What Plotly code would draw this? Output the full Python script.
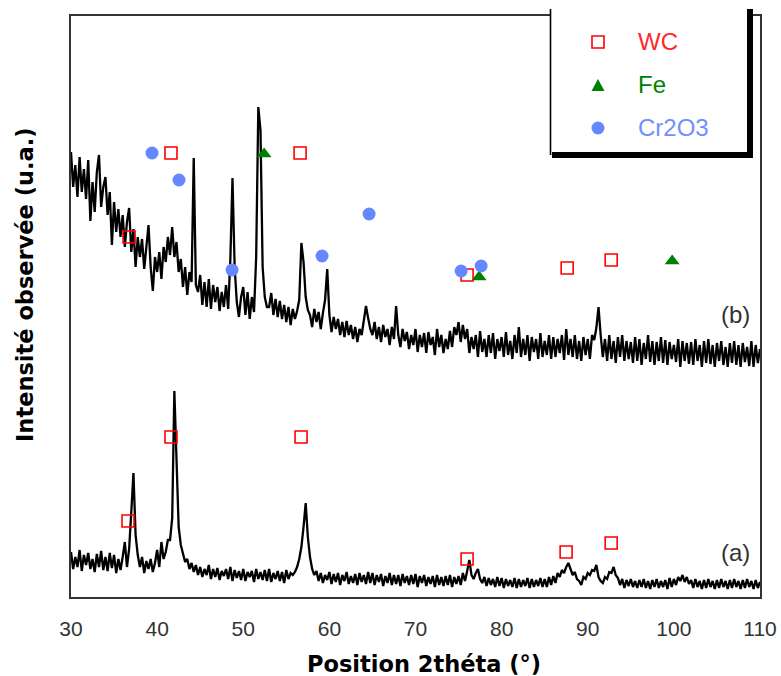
import numpy as np
import plotly.graph_objects as go

# ---------------- data ----------------
two_theta_start = 30.0
two_theta_step = 0.25

# Pattern (b) - intensity (u.a.), 0.25 deg steps from 30 to 110
pattern_b = [
    445, 410, 432, 400,  440, 405, 428, 398,  437, 376, 415, 385,  425, 442, 390, 410,
    420, 382, 405, 352,  395, 365, 388, 360,  382, 350, 375, 389,  345, 368, 330, 360,
    340, 358, 328, 352,  372, 330, 306, 340,  325, 345, 318, 350,  335, 360, 342, 370,
    340, 355, 325, 338,  310, 330, 302, 325,  315, 439, 312, 305,  322, 292, 315, 290,
    318, 288, 312, 295,  310, 286, 305, 290,  312, 288, 337, 419,  330, 295, 280, 300,
    310, 282, 305, 278,  300, 285, 340, 490,  467, 330, 300, 290,  290, 304, 282, 298,
    280, 296, 278, 292,  275, 290, 272, 288,  278, 286, 297, 354,  335, 300, 287, 282,
    270, 288, 275, 285,  268, 284, 297, 328,  282, 265, 280, 268,  278, 262, 275, 260,
    276, 262, 272, 258,  270, 255, 268, 262,  276, 291, 279, 268,  262, 275, 258, 270,
    255, 272, 260, 268,  252, 270, 258, 291,  262, 250, 268, 256,  265, 248, 262, 252,
    268, 245, 262, 250,  264, 244, 265, 252,  260, 242, 268, 250,  262, 244, 258, 248,
    266, 250, 270, 262,  275, 255, 272, 258,  268, 244, 260, 248,  262, 240, 266, 245,
    258, 240, 262, 244,  264, 238, 258, 246,  260, 240, 265, 242,  256, 238, 262, 244,
    270, 240, 258, 242,  262, 236, 260, 245,  258, 238, 264, 240,  256, 242, 262, 238,
    260, 240, 258, 244,  262, 237, 268, 242,  258, 240, 262, 238,  256, 236, 260, 242,
    258, 238, 262, 257,  269, 290, 262, 240,  258, 236, 262, 238,  256, 234, 260, 240,
    262, 236, 256, 238,  255, 234, 260, 236,  258, 232, 254, 238,  262, 235, 256, 232,
    255, 236, 260, 234,  257, 232, 255, 238,  252, 235, 258, 230,  256, 236, 254, 233,
    255, 232, 258, 236,  252, 230, 256, 234,  258, 233, 252, 230,  254, 236, 256, 232,
    250, 230, 254, 234,  256, 232, 252, 230,  254, 235, 250, 231,  256, 230, 252, 234,
    248,
]

# Pattern (a) - intensity (u.a.), 0.25 deg steps from 30 to 110
pattern_a = [
    45, 28, 40, 30,  47, 26, 42, 32,  44, 28, 38, 25,  43, 30, 46, 27,
    40, 26, 44, 29,  42, 24, 38, 27,  40, 55, 30, 48,  85, 124, 62, 42,
    30, 40, 24, 36,  28, 38, 25, 34,  47, 30, 55, 38,  45, 57, 57, 79,
    206, 130, 70, 52,  42, 35, 38, 28,  34, 25, 32, 22,  30, 20, 28, 22,
    32, 18, 28, 20,  29, 17, 26, 21,  28, 18, 30, 16,  27, 19, 26, 17,
    28, 16, 25, 20,  26, 15, 28, 18,  25, 17, 27, 16,  28, 15, 24, 18,
    26, 16, 25, 14,  27, 18, 24, 22,  25, 30, 38, 50,  70, 94, 60, 40,
    28, 22, 26, 16,  24, 14, 22, 17,  25, 13, 23, 15,  24, 12, 22, 16,
    25, 13, 21, 14,  23, 12, 24, 15,  22, 13, 25, 14,  24, 12, 22, 15,
    23, 11, 21, 14,  24, 12, 22, 13,  22, 11, 23, 14,  21, 12, 22, 13,
    23, 10, 21, 14,  22, 11, 20, 13,  21, 10, 22, 12,  20, 11, 21, 12,
    22, 10, 20, 13,  21, 12, 24, 16,  26, 37, 22, 18,  24, 28, 18, 14,
    20, 11, 19, 12,  18, 10, 20, 11,  19, 9, 18, 11,  17, 10, 19, 9,
    18, 10, 17, 11,  19, 9, 18, 10,  17, 11, 19, 10,  18, 10, 20, 12,
    21, 14, 24, 20,  27, 24, 30, 34,  28, 22, 25, 18,  16, 12, 20, 18,
    24, 22, 27, 26,  32, 20, 16, 14,  20, 18, 25, 24,  30, 22, 19, 12,
    18, 9, 17, 11,  18, 10, 16, 9,  17, 10, 18, 9,  16, 8, 17, 10,
    18, 9, 16, 10,  17, 8, 19, 10,  18, 12, 20, 16,  22, 15, 20, 13,
    17, 9, 18, 10,  16, 8, 17, 9,  18, 10, 16, 8,  17, 9, 18, 10,
    16, 8, 17, 9,  18, 10, 16, 8,  17, 9, 18, 10,  16, 8, 17, 9,
    15,
]

two_theta = two_theta_start + two_theta_step * np.arange(len(pattern_b))

# Phase markers (2theta, intensity level)
wc_x = [36.74, 41.61, 56.60, 75.99, 87.61, 92.72,
        36.62, 41.61, 56.71, 75.99, 87.49, 92.72]
wc_y = [360, 444, 444, 322, 329, 337,
        76, 160, 160, 38, 45, 54]
fe_x = [52.42, 77.39, 99.80]
fe_y = [443, 320, 336]
cr2o3_x = [39.41, 42.54, 48.70, 59.15, 64.61, 75.30, 77.62]
cr2o3_y = [444, 417, 327, 341, 383, 326, 331]

x_ticks = [30, 40, 50, 60, 70, 80, 90, 100, 110]
legend_names = ["WC", "Fe", "Cr2O3"]
pattern_labels = ["(b)", "(a)"]

# ---------------- styles ----------------
RED = "#ff0000"
GREEN = "#008000"
BLUE = "#6688ff"
FRAME = "#333333"

W, H = 781, 676
L, R, T, B = 71, 21, 16, 79
PW, PH = W - L - R, H - T - B


def px(xp):
    return (xp - L) / PW


def py(yp):
    return (H - B - yp) / PH


fig = go.Figure()
fig.add_trace(go.Scatter(x=two_theta, y=pattern_b, mode="lines",
                         line=dict(color="black", width=2.3), showlegend=False,
                         hoverinfo="skip"))
fig.add_trace(go.Scatter(x=two_theta, y=pattern_a, mode="lines",
                         line=dict(color="black", width=2.3), showlegend=False,
                         hoverinfo="skip"))
fig.add_trace(go.Scatter(x=wc_x, y=wc_y, mode="markers", name="WC",
                         marker=dict(symbol="square-open", size=12,
                                     color=RED, line=dict(color=RED, width=1.6)),
                         showlegend=False, cliponaxis=False))
fig.add_trace(go.Scatter(x=fe_x, y=fe_y, mode="markers", name="Fe",
                         marker=dict(symbol="triangle-up", size=13, color=GREEN),
                         showlegend=False, cliponaxis=False))
fig.add_trace(go.Scatter(x=cr2o3_x, y=cr2o3_y, mode="markers", name="Cr2O3",
                         marker=dict(symbol="circle", size=13, color=BLUE),
                         showlegend=False, cliponaxis=False))

# custom legend box (white box with drop shadow)
shapes = [
    dict(type="rect", xref="paper", yref="paper", x0=px(550), x1=px(750), y0=py(153), y1=py(9),
         fillcolor="white", line=dict(width=0), layer="above"),
    dict(type="rect", xref="paper", yref="paper", x0=px(747), x1=px(753), y0=py(158), y1=py(9),
         fillcolor="black", line=dict(width=0), layer="above"),
    dict(type="rect", xref="paper", yref="paper", x0=px(552), x1=px(753), y0=py(158), y1=py(152),
         fillcolor="black", line=dict(width=0), layer="above"),
    dict(type="line", xref="paper", yref="paper", x0=px(550.5), x1=px(550.5), y0=py(155), y1=py(9),
         line=dict(color="black", width=1.6), layer="above"),
    # legend symbols
    dict(type="rect", xref="paper", yref="paper", x0=px(592), x1=px(604), y0=py(48), y1=py(36),
         line=dict(color=RED, width=1.6), fillcolor="rgba(0,0,0,0)", layer="above"),
    dict(type="path", xref="paper", yref="paper",
         path=f"M {px(591.5)},{py(91)} L {px(604.5)},{py(91)} L {px(598)},{py(79)} Z",
         fillcolor=GREEN, line=dict(width=0), layer="above"),
    dict(type="circle", xref="paper", yref="paper", x0=px(591.5), x1=px(604.5), y0=py(134.5), y1=py(121.5),
         fillcolor=BLUE, line=dict(width=0), layer="above"),
]

legend_colors = ["#ff2a2a", GREEN, "#7090ff"]
legend_rows = [42, 85, 128]
annotations = []
for name, col, row in zip(legend_names, legend_colors, legend_rows):
    annotations.append(dict(xref="paper", yref="paper", x=px(636), y=py(row), text=name,
                            showarrow=False, xanchor="left", yanchor="middle",
                            font=dict(family="Liberation Sans, Arial, sans-serif", size=24, color=col)))

annotations.append(dict(xref="paper", yref="paper", x=px(735), y=py(314), text=pattern_labels[0],
                        showarrow=False, xanchor="center", yanchor="middle",
                        font=dict(family="Liberation Sans, Arial, sans-serif", size=24, color="#333333")))
annotations.append(dict(xref="paper", yref="paper", x=px(735), y=py(552), text=pattern_labels[1],
                        showarrow=False, xanchor="center", yanchor="middle",
                        font=dict(family="Liberation Sans, Arial, sans-serif", size=24, color="#333333")))
annotations.append(dict(xref="paper", yref="paper", x=px(424), y=py(664), text="Position 2théta (°)",
                        showarrow=False, xanchor="center", yanchor="middle",
                        font=dict(family="DejaVu Sans, Verdana, sans-serif", size=22.5, color="black",
                                  weight="bold")))
annotations.append(dict(xref="paper", yref="paper", x=px(25), y=py(285), text="Intensité observée (u.a.)",
                        showarrow=False, xanchor="center", yanchor="middle", textangle=-90,
                        font=dict(family="DejaVu Sans, Verdana, sans-serif", size=22.5, color="black",
                                  weight="bold")))

fig.update_layout(
    width=W, height=H, autosize=False,
    margin=dict(l=L, r=R, t=T, b=B, autoexpand=False),
    paper_bgcolor="white", plot_bgcolor="white",
    shapes=shapes, annotations=annotations,
    showlegend=False,
    xaxis=dict(range=[30, 110], tickvals=x_ticks, ticktext=[str(v) for v in x_ticks],
               showgrid=False, zeroline=False, showline=True, mirror=True, automargin=False,
               linecolor=FRAME, linewidth=2, ticks="", ticklabelstandoff=12,
               tickfont=dict(family="Liberation Sans, Arial, sans-serif", size=21, color="#333333")),
    yaxis=dict(range=[0, 581], showgrid=False, zeroline=False, showline=True, mirror=True,
               automargin=False,
               linecolor=FRAME, linewidth=2, ticks="", showticklabels=False),
)

fig.write_html("out.html", config={"displayModeBar": False, "responsive": False},
               post_script="document.body.style.margin='0px';document.body.style.overflow='hidden';")
